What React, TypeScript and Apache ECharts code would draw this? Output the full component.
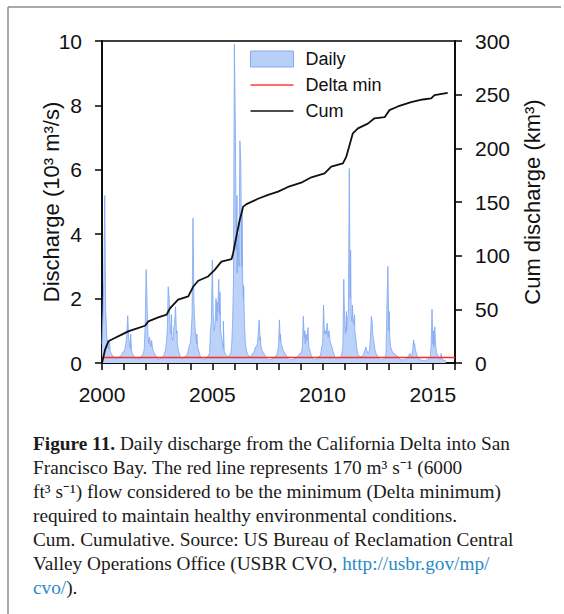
import React, { useEffect, useRef } from 'react';
import * as echarts from 'echarts';

// Daily discharge (10^3 m3/s), semi-monthly readings per year
const d2000 = [0.6, 1.5, 2.6, 5.2, 1.6, 0.9, 0.6, 0.45, 0.7, 0.35, 0.3, 0.25, 0.2, 0.2, 0.15, 0.15, 0.15, 0.2, 0.15, 0.2, 0.2, 0.25, 0.3, 0.35];
const d2001 = [0.35, 0.45, 0.6, 0.9, 1.47, 0.8, 0.55, 0.45, 0.4, 0.3, 0.25, 0.2, 0.15, 0.15, 0.12, 0.12, 0.15, 0.15, 0.2, 0.2, 0.25, 0.3, 0.45, 1.2];
const d2002 = [2.9, 1.9, 0.8, 0.6, 0.75, 0.5, 0.65, 0.45, 0.35, 0.3, 0.25, 0.2, 0.15, 0.12, 0.12, 0.12, 0.15, 0.15, 0.2, 0.2, 0.3, 0.4, 0.6, 1.0];
const d2003 = [2.37, 2.07, 1.2, 0.9, 0.8, 0.7, 1.0, 1.2, 1.75, 0.9, 0.6, 0.4, 0.3, 0.2, 0.15, 0.15, 0.15, 0.15, 0.2, 0.2, 0.25, 0.3, 0.4, 0.55];
const d2004 = [0.6, 0.9, 1.5, 4.5, 1.86, 1.2, 0.8, 0.6, 0.5, 0.4, 0.3, 0.2, 0.15, 0.12, 0.12, 0.12, 0.12, 0.15, 0.15, 0.2, 0.25, 0.3, 1.0, 1.3];
const d2005 = [3.2, 1.5, 1.0, 1.2, 2.0, 1.3, 1.6, 2.6, 1.5, 1.0, 0.8, 0.6, 0.45, 0.35, 0.3, 0.25, 0.2, 0.2, 0.2, 0.25, 0.3, 0.5, 1.2, 2.5];
const d2006 = [9.9, 7.6, 3.5, 2.8, 4.0, 3.0, 6.9, 6.2, 3.0, 2.6, 2.0, 1.2, 0.6, 0.4, 0.3, 0.25, 0.2, 0.2, 0.2, 0.25, 0.3, 0.3, 0.4, 0.5];
const d2007 = [0.5, 0.6, 0.9, 1.34, 0.7, 0.5, 0.4, 0.35, 0.3, 0.25, 0.2, 0.15, 0.12, 0.1, 0.1, 0.1, 0.12, 0.12, 0.15, 0.15, 0.2, 0.2, 0.25, 0.35];
const d2008 = [0.5, 1.34, 0.9, 0.6, 0.5, 0.4, 0.35, 0.3, 0.25, 0.2, 0.15, 0.12, 0.1, 0.1, 0.1, 0.1, 0.12, 0.12, 0.15, 0.15, 0.2, 0.2, 0.25, 0.3];
const d2009 = [0.3, 0.3, 0.5, 1.45, 0.8, 0.6, 0.9, 0.7, 1.1, 0.5, 0.4, 0.3, 0.2, 0.15, 0.12, 0.1, 0.1, 0.12, 0.12, 0.15, 0.2, 0.2, 0.3, 0.5];
const d2010 = [0.6, 1.8, 0.9, 1.0, 0.9, 1.24, 0.8, 1.0, 0.7, 0.6, 0.5, 0.4, 0.3, 0.2, 0.15, 0.12, 0.12, 0.12, 0.15, 0.15, 0.2, 0.3, 0.5, 2.6];
const d2011 = [1.2, 0.9, 1.0, 1.4, 1.5, 6.04, 2.0, 1.5, 1.3, 1.4, 1.2, 1.0, 0.8, 0.5, 0.3, 0.25, 0.2, 0.2, 0.2, 0.2, 0.25, 0.3, 0.4, 0.5];
const d2012 = [0.4, 0.3, 0.3, 0.4, 0.8, 1.45, 1.24, 0.8, 0.6, 0.4, 0.3, 0.25, 0.2, 0.15, 0.12, 0.1, 0.1, 0.1, 0.12, 0.15, 0.2, 0.3, 1.86, 3.0];
const d2013 = [1.0, 0.8, 0.5, 0.4, 0.35, 0.3, 0.3, 0.25, 0.25, 0.2, 0.2, 0.15, 0.12, 0.1, 0.1, 0.1, 0.1, 0.1, 0.12, 0.12, 0.15, 0.2, 0.25, 0.3];
const d2014 = [0.2, 0.2, 0.4, 0.72, 0.6, 0.4, 0.3, 0.2, 0.15, 0.12, 0.1, 0.1, 0.08, 0.08, 0.08, 0.08, 0.08, 0.1, 0.1, 0.12, 0.15, 0.2, 0.5, 1.67];
const d2015 = [0.6, 0.5, 1.13, 0.5, 0.3, 0.25, 0.2, 0.15, 0.12, 0.3, 0.12, 0.1, 0.08, 0.08, 0.08];

const dailyYears: [number, number[]][] = [
  [2000, d2000], [2001, d2001], [2002, d2002], [2003, d2003], [2004, d2004],
  [2005, d2005], [2006, d2006], [2007, d2007], [2008, d2008], [2009, d2009],
  [2010, d2010], [2011, d2011], [2012, d2012], [2013, d2013], [2014, d2014], [2015, d2015],
];

// Extra narrow daily spikes read between the semi-monthly readings: [year, value]
const dailySpikeYears = [2000.2, 2000.35, 2001.1, 2001.3, 2002.15, 2002.25, 2003.15, 2003.25, 2003.4, 2004.22, 2004.3, 2005.15, 2005.22, 2005.35, 2005.5, 2006.12, 2006.18, 2006.35, 2006.42, 2007.18, 2008.08, 2009.2, 2010.18, 2010.27, 2011.08, 2011.27, 2011.35, 2011.45, 2012.27, 2013.02, 2014.15, 2015.02];
const dailySpikeValues = [1.2, 0.6, 0.6, 0.9, 0.8, 0.7, 1.5, 1.1, 1.0, 1.1, 0.9, 1.6, 1.9, 2.2, 1.3, 5.2, 3.6, 4.8, 2.4, 0.8, 0.7, 1.0, 1.1, 0.95, 1.6, 3.5, 1.8, 1.5, 0.9, 1.6, 0.55, 1.0];

// Delta minimum flow (10^3 m3/s)
const deltaMin = 0.17;

// Cumulative discharge (km3): [year, value]
const cumYears = [2000.0, 2000.14, 2000.29, 2000.51, 2000.89, 2001.19, 2001.49, 2001.95, 2002.1, 2002.55, 2002.93, 2003.08, 2003.45, 2003.91, 2004.13, 2004.36, 2004.81, 2005.11, 2005.41, 2005.87, 2005.94, 2006.09, 2006.24, 2006.4, 2006.55, 2007.07, 2007.53, 2007.98, 2008.43, 2009.03, 2009.49, 2010.09, 2010.39, 2010.92, 2011.07, 2011.37, 2011.6, 2012.05, 2012.35, 2012.81, 2013.03, 2013.41, 2014.01, 2014.54, 2014.92, 2015.07, 2015.67];
const cumValues = [0, 12.4, 20.2, 22.6, 26.4, 29.5, 31.6, 34.7, 38.8, 42.5, 45, 51, 59, 62, 71, 76.6, 80.6, 86.8, 94.5, 96.7, 102, 117.8, 133, 145.7, 148, 153, 156.6, 159.7, 164, 168, 173, 176.7, 183, 186, 192, 214, 218.6, 223, 228, 229, 235.6, 239, 243, 245.5, 246.5, 249.5, 251.7];

const xLabels = [2000, 2005, 2010, 2015];

const captionLines = [
  '{b|Figure 11.} Daily discharge from the California Delta into San',
  'Francisco Bay. The red line represents 170 m³ s⁻¹ (6000',
  'ft³ s⁻¹) flow considered to be the minimum (Delta minimum)',
  'required to maintain healthy environmental conditions.',
  'Cum. Cumulative. Source: US Bureau of Reclamation Central',
  'Valley Operations Office (USBR CVO, {a|http://usbr.gov/mp/}',
  '{a|cvo/}).',
];

const SANS = '"Liberation Sans", Arial, sans-serif';
const SERIF = '"Liberation Serif", "Times New Roman", serif';
const LINE_ICON = 'path://M0,0M43,16M0,7.25L43,7.25L43,8.75L0,8.75Z';

export default function App() {
  const ref = useRef<HTMLDivElement>(null);
  useEffect(() => {
    const chart = echarts.init(ref.current!, null, { renderer: 'svg' });
    const dailyData: number[][] = [];
    dailyYears.forEach(([y, arr]) => arr.forEach((v, i) => dailyData.push([y + i / 24, v])));
    dailySpikeYears.forEach((y, i) => dailyData.push([y, dailySpikeValues[i]]));
    dailyData.sort((a, b) => a[0] - b[0]);
    const cumData = cumYears.map((y, i) => [y, cumValues[i]]);

    const fs = 19.3;
    const captionGraphics = captionLines.map((t, i) => ({
      type: 'text',
      left: 33,
      top: 434 + i * 24,
      style: {
        text: t,
        fontFamily: SERIF,
        fontSize: fs,
        fill: '#1a1a1a',
        rich: {
          b: { fontFamily: SERIF, fontSize: fs, fontWeight: 'bold', fill: '#1a1a1a' },
          a: { fontFamily: SERIF, fontSize: fs, fill: '#2b8ac6' },
        },
      },
    }));

    const axisLine = { show: true, lineStyle: { color: '#000', width: 1.5 } };
    const axisTick = { show: true, inside: false, length: 7, lineStyle: { color: '#000', width: 1.5 } };

    chart.setOption({
      animation: false,
      backgroundColor: '#fff',
      textStyle: { fontFamily: SANS },
      grid: {
        left: 102, right: 109, top: 41, bottom: 251,
        show: true, borderColor: '#000', borderWidth: 1.5, backgroundColor: 'transparent',
      },
      legend: {
        orient: 'vertical',
        left: 250,
        top: 50,
        itemWidth: 43,
        itemHeight: 16,
        itemGap: 8,
        padding: 0,
        textStyle: { fontSize: 18, color: '#111', fontFamily: SANS, lineHeight: 16, padding: [0, 0, 0, 7] },
        data: [
          { name: 'Daily', icon: 'rect', itemStyle: { color: '#b8cff8', borderColor: '#86aaf2', borderWidth: 1 } },
          { name: 'Delta min', icon: LINE_ICON, itemStyle: { color: '#ff3b3b', borderWidth: 0 } },
          { name: 'Cum', icon: LINE_ICON, itemStyle: { color: '#111', borderWidth: 0 } },
        ],
      },
      xAxis: {
        type: 'value',
        min: 2000,
        max: 2016,
        interval: 1,
        axisLine,
        axisTick,
        splitLine: { show: false },
        axisLabel: {
          fontSize: 21, color: '#111', margin: 21, fontFamily: SANS,
          formatter: (v: number) => (xLabels.includes(v) ? String(v) : ''),
        },
      },
      yAxis: [
        {
          type: 'value', min: 0, max: 10, interval: 2, position: 'left',
          axisLine, axisTick, splitLine: { show: false },
          axisLabel: { fontSize: 21, color: '#111', margin: 20, fontFamily: SANS },
          name: 'Discharge (10³ m³/s)', nameLocation: 'middle', nameGap: 40, nameRotate: 90,
          nameMoveOverlap: false,
          nameTextStyle: { fontSize: 22, color: '#111', fontFamily: SANS },
        },
        {
          type: 'value', min: 0, max: 300, interval: 50, position: 'right',
          axisLine, axisTick, splitLine: { show: false },
          axisLabel: { fontSize: 21, color: '#111', margin: 20, fontFamily: SANS },
          name: 'Cum discharge (km³)', nameLocation: 'middle', nameGap: 66, nameRotate: 90,
          nameMoveOverlap: false,
          nameTextStyle: { fontSize: 22, color: '#111', fontFamily: SANS },
        },
      ],
      series: [
        {
          name: 'Daily', type: 'line', data: dailyData, symbol: 'none', z: 1,
          lineStyle: { color: '#7ea6f3', width: 0.8 },
          itemStyle: { color: '#b8cff8' },
          areaStyle: { color: '#bdd2f8', opacity: 1 },
        },
        {
          name: 'Delta min', type: 'line', data: [[2000, deltaMin], [2016, deltaMin]], symbol: 'none', z: 3,
          lineStyle: { color: '#ff2b2b', width: 1.5 }, itemStyle: { color: '#ff2b2b' },
        },
        {
          name: 'Cum', type: 'line', yAxisIndex: 1, data: cumData, symbol: 'none', z: 4,
          lineStyle: { color: '#111', width: 1.8 }, itemStyle: { color: '#111' },
        },
      ],
      graphic: [
        { type: 'line', shape: { x1: 8, y1: 7, x2: 8, y2: 614 }, style: { stroke: '#8c8c8c', lineWidth: 1.5 } },
        { type: 'line', shape: { x1: 8, y1: 7, x2: 561, y2: 7 }, style: { stroke: '#8c8c8c', lineWidth: 1.5 } },
        ...captionGraphics,
      ],
    });
    return () => chart.dispose();
  }, []);
  return <div ref={ref} style={{ position: 'fixed', left: 0, top: 0, width: 564, height: 614, background: '#fff' }} />;
}
